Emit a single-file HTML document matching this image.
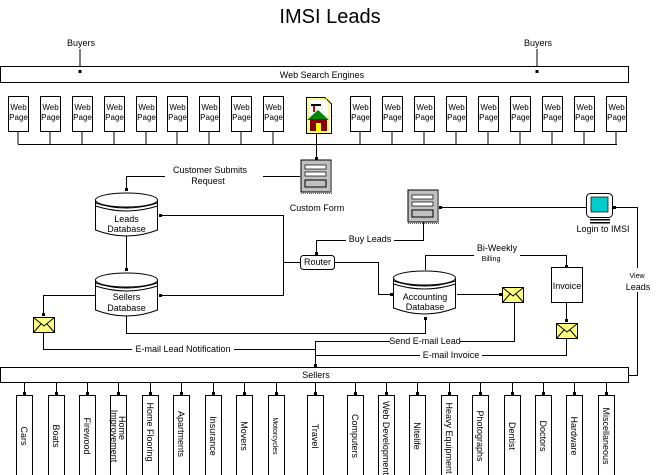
<!DOCTYPE html>
<html><head><meta charset="utf-8"><style>
html,body{margin:0;padding:0;background:#fff;width:659px;height:475px;overflow:hidden}
svg{display:block}
text{font-family:"Liberation Sans",sans-serif;font-size:9px;fill:#000}
</style></head><body>
<svg width="659" height="475" viewBox="0 0 659 475" xmlns="http://www.w3.org/2000/svg">
<defs>
<g id="wp"><rect x="0.5" y="0.5" width="20" height="35" fill="#fff" stroke="#000"/><text x="10.5" y="14" text-anchor="middle" style="font-size:8px">Web</text><text x="10.5" y="24" text-anchor="middle" style="font-size:8px">Page</text></g>
<g id="form"><rect x="0" y="0" width="30" height="32" fill="#c0c0c0" stroke="#000"/><line x1="30" y1="1" x2="30" y2="32" stroke="#808080" stroke-width="2"/><rect x="4" y="5" width="21" height="4" fill="#fff" stroke="#000" stroke-width="0.7"/><rect x="4" y="12" width="21" height="4" fill="#fff" stroke="#000" stroke-width="0.7"/><rect x="4" y="20" width="21" height="7" fill="#c0c0c0" stroke="#000"/><line x1="0" y1="33.5" x2="31" y2="33.5" stroke="#008080" stroke-dasharray="1 1"/></g>
<g id="env"><rect x="0.5" y="0.5" width="21" height="15" fill="#ffff80" stroke="#000"/><path d="M0.5 0.5 L11 9 L21.5 0.5 M0.5 15.5 L8 7 M21.5 15.5 L14 7" fill="none" stroke="#000"/></g>
<g id="cyl"><path d="M0.5 8 L0.5 38 Q31.5 50 62.5 38 L62.5 8" fill="#fff" stroke="#000"/><ellipse cx="31.5" cy="8" rx="31" ry="7" fill="#fff" stroke="#000"/><path d="M0.5 11 Q31.5 21 62.5 11 M0.5 14 Q31.5 24 62.5 14" fill="none" stroke="#000"/></g>
</defs>
<text x="330" y="23" text-anchor="middle" style="font-size:20px">IMSI Leads</text>
<text x="81" y="46" text-anchor="middle">Buyers</text>
<text x="538" y="46" text-anchor="middle">Buyers</text>
<g stroke="#000" fill="none">
<line x1="80" y1="49" x2="80" y2="72"/><line x1="537" y1="49" x2="537" y2="72"/>
</g>
<rect x="0.5" y="66.5" width="628" height="16" fill="#fff" stroke="#000"/>
<rect x="78.5" y="70" width="3" height="3"/><rect x="535.5" y="70" width="3" height="3"/>
<text x="322" y="78" text-anchor="middle">Web Search Engines</text>
<use href="#wp" x="8" y="96"/><use href="#wp" x="40" y="96"/><use href="#wp" x="72" y="96"/><use href="#wp" x="104" y="96"/><use href="#wp" x="136" y="96"/><use href="#wp" x="167" y="96"/><use href="#wp" x="199" y="96"/><use href="#wp" x="231" y="96"/><use href="#wp" x="263" y="96"/>
<use href="#wp" x="350" y="96"/><use href="#wp" x="382" y="96"/><use href="#wp" x="414" y="96"/><use href="#wp" x="446" y="96"/><use href="#wp" x="478" y="96"/><use href="#wp" x="510" y="96"/><use href="#wp" x="542" y="96"/><use href="#wp" x="574" y="96"/><use href="#wp" x="606" y="96"/>
<path d="M306.5 97.5 L325 97.5 L331.5 104 L331.5 133.5 L306.5 133.5 Z" fill="#fff" stroke="#000"/>
<rect x="308" y="99" width="21" height="33" fill="none" stroke="#ee0" stroke-dasharray="1 1"/>
<rect x="311" y="104" width="10" height="2"/><rect x="313" y="106" width="2" height="6" fill="#c00"/>
<path d="M307 120 L318 110 L329 120 Z" fill="#080"/><rect x="310" y="119" width="17" height="12" fill="#800"/><rect x="316" y="123" width="5" height="8" fill="#ff0"/>
<g stroke="#000" fill="none">
<path d="M18 132 V144 M50 132 V144 M82 132 V144 M114 132 V144 M146 132 V144 M177 132 V144 M209 132 V144 M241 132 V144 M273 132 V144 M360 132 V144 M392 132 V144 M424 132 V144 M456 132 V144 M488 132 V144 M520 132 V144 M552 132 V144 M584 132 V144 M616 132 V144"/>
<line x1="18" y1="144.5" x2="617" y2="144.5"/>
<line x1="316.5" y1="134" x2="316.5" y2="160"/>
<path d="M300 176.5 H126.5 V191"/>
<line x1="126.5" y1="236" x2="126.5" y2="271"/>
<path d="M159 215.5 H283.5 V295.5 H159"/>
<line x1="283" y1="262.5" x2="301" y2="262.5"/>
<path d="M316.5 255 V240.5 H423.5 V222"/>
<path d="M335 262.5 H378.5 V294.5 H393"/>
<path d="M425.5 270 V255.5 H566.5 V268"/>
<path d="M566.5 302 V322"/>
<path d="M457 294.5 H502"/>
<path d="M514.5 303 V341.5 H315.5 V367"/>
<path d="M566.5 339 V355.5 H315.5"/>
<path d="M126.5 316 V333.5 H425.5 V318"/>
<path d="M95 295.5 H43.5 V316"/>
<path d="M43.5 333 V349.5 H315.5"/>
<path d="M439 207.5 H586"/>
<path d="M613 207.5 H637.5 V375.5 H629"/>
</g>
<g>
<rect x="315" y="157" width="3" height="3"/><rect x="125" y="188" width="3" height="3"/><rect x="125" y="268" width="3" height="3"/>
<rect x="159" y="214" width="3" height="3"/><rect x="159" y="294" width="3" height="3"/><rect x="315" y="252" width="3" height="3"/>
<rect x="390" y="293" width="3" height="3"/><rect x="565" y="265" width="3" height="3"/><rect x="565" y="319" width="3" height="3"/>
<rect x="499" y="293" width="3" height="3"/><rect x="424" y="317" width="3" height="3"/><rect x="42" y="313" width="3" height="3"/>
<rect x="314" y="364" width="3" height="3"/><rect x="439" y="206" width="3" height="3"/><rect x="613" y="206" width="3" height="3"/>
</g>
<rect x="165" y="165" width="98" height="20" fill="#fff"/>
<text x="210" y="173" text-anchor="middle">Customer Submits</text>
<text x="208" y="184" text-anchor="middle">Request</text>
<use href="#form" x="301" y="160"/>
<text x="317" y="211" text-anchor="middle">Custom Form</text>
<use href="#form" x="408" y="190"/>
<rect x="346" y="234" width="48" height="11" fill="#fff"/>
<text x="370" y="242" text-anchor="middle">Buy Leads</text>
<use href="#cyl" x="95" y="192"/>
<text x="126.5" y="222" text-anchor="middle">Leads</text><text x="126.5" y="232" text-anchor="middle">Database</text>
<use href="#cyl" x="95" y="272"/>
<text x="126.5" y="300" text-anchor="middle">Sellers</text><text x="126.5" y="311" text-anchor="middle">Database</text>
<use href="#cyl" x="393" y="270"/>
<text x="425" y="300" text-anchor="middle">Accounting</text><text x="425" y="310" text-anchor="middle">Database</text>
<rect x="300.5" y="255.5" width="34" height="14" rx="3" fill="#fff" stroke="#000"/>
<text x="317.5" y="265" text-anchor="middle">Router</text>
<rect x="474" y="241" width="46" height="22" fill="#fff"/>
<text x="497" y="251" text-anchor="middle">Bi-Weekly</text>
<text x="491" y="261" text-anchor="middle" style="font-size:7px">Billing</text>
<rect x="551.5" y="267.5" width="31" height="35" fill="#fff" stroke="#000"/>
<text x="567" y="289" text-anchor="middle">Invoice</text>
<use href="#env" x="502" y="287"/>
<use href="#env" x="556" y="323"/>
<use href="#env" x="33" y="317"/>
<rect x="586.5" y="193.5" width="26" height="24" rx="4" fill="#fff" stroke="#000"/>
<rect x="591" y="197" width="17" height="15" fill="#0cc" stroke="#000" stroke-width="0.7"/>
<rect x="590" y="219" width="20" height="1.5"/><rect x="590" y="222" width="20" height="1.5"/>
<text x="603" y="232" text-anchor="middle">Login to IMSI</text>
<rect x="626" y="268" width="22" height="24" fill="#fff"/>
<text x="637" y="278" text-anchor="middle" style="font-size:7px">View</text>
<text x="638" y="290" text-anchor="middle">Leads</text>
<rect x="390" y="336" width="70" height="11" fill="#fff"/>
<text x="425" y="344" text-anchor="middle">Send E-mail Lead</text>
<rect x="420" y="350" width="62" height="11" fill="#fff"/>
<text x="451" y="358" text-anchor="middle">E-mail Invoice</text>
<rect x="132" y="344" width="102" height="11" fill="#fff"/>
<text x="183" y="352" text-anchor="middle">E-mail Lead Notification</text>
<rect x="0.5" y="367.5" width="628" height="15" fill="#fff" stroke="#000"/>
<text x="316" y="378" text-anchor="middle">Sellers</text>
<g stroke="#000" fill="none">
<path d="M24.5 383 V396 M56.5 383 V396 M87.5 383 V396 M118.5 383 V396 M150.5 383 V396 M181.5 383 V396 M213.5 383 V396 M244.5 383 V396 M276.5 383 V396 M315.5 383 V396 M355.5 383 V396 M386.5 383 V396 M417.5 383 V396 M449.5 383 V396 M480.5 383 V396 M512.5 383 V396 M543.5 383 V396 M574.5 383 V396 M606.5 383 V396"/>
</g>
<g>
<rect x="23" y="392" width="3" height="3"/><rect x="55" y="392" width="3" height="3"/><rect x="86" y="392" width="3" height="3"/><rect x="117" y="392" width="3" height="3"/><rect x="149" y="392" width="3" height="3"/><rect x="180" y="392" width="3" height="3"/><rect x="212" y="392" width="3" height="3"/><rect x="243" y="392" width="3" height="3"/><rect x="275" y="392" width="3" height="3"/><rect x="314" y="392" width="3" height="3"/><rect x="354" y="392" width="3" height="3"/><rect x="385" y="392" width="3" height="3"/><rect x="416" y="392" width="3" height="3"/><rect x="448" y="392" width="3" height="3"/><rect x="479" y="392" width="3" height="3"/><rect x="511" y="392" width="3" height="3"/><rect x="542" y="392" width="3" height="3"/><rect x="573" y="392" width="3" height="3"/><rect x="605" y="392" width="3" height="3"/>
</g>
<g fill="#fff" stroke="#000">
<rect x="16.5" y="395.5" width="16" height="90"/><rect x="48.5" y="395.5" width="16" height="90"/><rect x="79.5" y="395.5" width="16" height="90"/><rect x="110.5" y="395.5" width="16" height="90"/><rect x="142.5" y="395.5" width="16" height="90"/><rect x="173.5" y="395.5" width="16" height="90"/><rect x="205.5" y="395.5" width="16" height="90"/><rect x="236.5" y="395.5" width="16" height="90"/><rect x="268.5" y="395.5" width="16" height="90"/><rect x="307.5" y="395.5" width="16" height="90"/><rect x="347.5" y="395.5" width="16" height="90"/><rect x="378.5" y="395.5" width="16" height="90"/><rect x="409.5" y="395.5" width="16" height="90"/><rect x="441.5" y="395.5" width="16" height="90"/><rect x="472.5" y="395.5" width="16" height="90"/><rect x="504.5" y="395.5" width="16" height="90"/><rect x="535.5" y="395.5" width="16" height="90"/><rect x="566.5" y="395.5" width="16" height="90"/><rect x="598.5" y="395.5" width="16" height="90"/>
</g>
<g>
<text transform="translate(21,436) rotate(90)" text-anchor="middle">Cars</text>
<text transform="translate(53,436) rotate(90)" text-anchor="middle">Boats</text>
<text transform="translate(84,436) rotate(90)" text-anchor="middle">Firewood</text>
<text transform="translate(119,428) rotate(90)" text-anchor="middle">Home</text>
<text transform="translate(111,436) rotate(90)" text-anchor="middle">Improvement</text>
<text transform="translate(147,432) rotate(90)" text-anchor="middle">Home Flooring</text>
<text transform="translate(178,434) rotate(90)" text-anchor="middle">Apartments</text>
<text transform="translate(210,436) rotate(90)" text-anchor="middle">Insurance</text>
<text transform="translate(241,436) rotate(90)" text-anchor="middle">Movers</text>
<text transform="translate(273,436) rotate(90)" text-anchor="middle" style="font-size:7px">Motorcycles</text>
<text transform="translate(312,436) rotate(90)" text-anchor="middle">Travel</text>
<text transform="translate(352,436) rotate(90)" text-anchor="middle">Computers</text>
<text transform="translate(383,438) rotate(90)" text-anchor="middle">Web Development</text>
<text transform="translate(414,436) rotate(90)" text-anchor="middle">Nitelife</text>
<text transform="translate(446,438) rotate(90)" text-anchor="middle">Heavy Equipment</text>
<text transform="translate(477,436) rotate(90)" text-anchor="middle">Photographs</text>
<text transform="translate(509,436) rotate(90)" text-anchor="middle">Dentist</text>
<text transform="translate(540,436) rotate(90)" text-anchor="middle">Doctors</text>
<text transform="translate(571,436) rotate(90)" text-anchor="middle">Hardware</text>
<text transform="translate(603,436) rotate(90)" text-anchor="middle">Miscellaneous</text>
</g>
</svg>
</body></html>
